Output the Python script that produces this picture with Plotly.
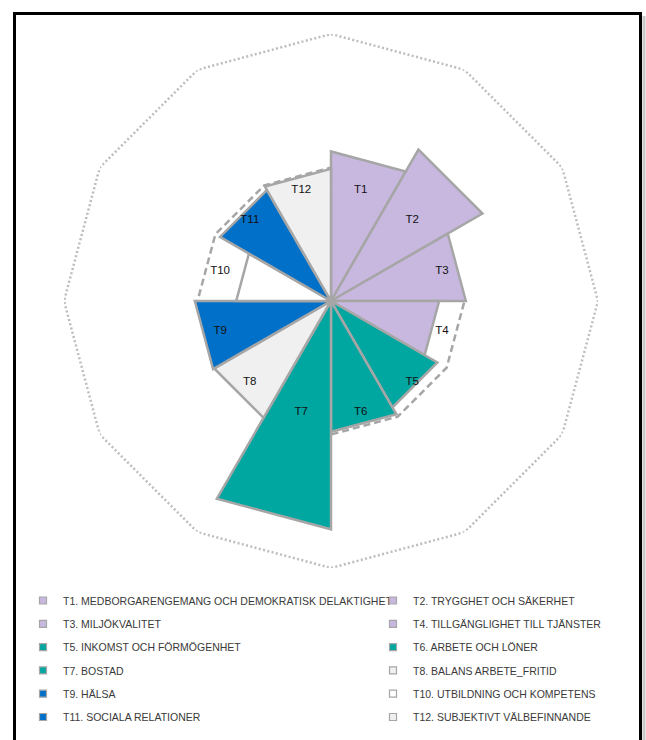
import plotly.graph_objects as go

# ---- data ----
codes = ["T1", "T2", "T3", "T4", "T5", "T6", "T7", "T8", "T9", "T10", "T11", "T12"]
names = [
    "T1. MEDBORGARENGEMANG OCH DEMOKRATISK DELAKTIGHET",
    "T2. TRYGGHET OCH SÄKERHET",
    "T3. MILJÖKVALITET",
    "T4. TILLGÄNGLIGHET TILL TJÄNSTER",
    "T5. INKOMST OCH FÖRMÖGENHET",
    "T6. ARBETE OCH LÖNER",
    "T7. BOSTAD",
    "T8. BALANS ARBETE_FRITID",
    "T9. HÄLSA",
    "T10. UTBILDNING OCH KOMPETENS",
    "T11. SOCIALA RELATIONER",
    "T12. SUBJEKTIVT VÄLBEFINNANDE",
]
values = [112, 131, 101, 81, 92, 98, 171, 101, 102, 71, 96, 99]
reference_level = 100
outer_level = 200

# ---- styles ----
fills = ["#c8b8e0", "#c8b8e0", "#c8b8e0", "#c8b8e0",
         "#00a6a0", "#00a6a0", "#00a6a0",
         "#f0f0f0",
         "#0070c8", "#ffffff", "#0070c8",
         "#f0f0f0"]
edge = "#a6a6a6"
FONT = "Liberation Sans, Arial, sans-serif"

n = len(codes)
step = 360 / n
W, H = 646, 740
cx, cy, R = 331, 301, 267

fig = go.Figure()

# outer dotted frame
ang_all = [i * step for i in range(n + 1)]
fig.add_trace(go.Scatterpolar(
    r=[outer_level] * (n + 1), theta=ang_all, mode="lines",
    line=dict(color="#bdbdbd", width=2.5, dash="2px,2.4px"),
    showlegend=False, hoverinfo="skip"))

# dashed reference polygon
fig.add_trace(go.Scatterpolar(
    r=[reference_level] * (n + 1), theta=ang_all, mode="lines",
    line=dict(color=edge, width=2.5, dash="7px,4px"),
    showlegend=False, hoverinfo="skip"))

# wedges
for i, (c, v) in enumerate(zip(codes, values)):
    a0 = i * step
    fig.add_trace(go.Scatterpolar(
        r=[0, v, v, 0], theta=[a0, a0, a0 + step, a0],
        mode="lines", fill="toself", fillcolor=fills[i],
        line=dict(color=edge, width=2.5),
        name=names[i], showlegend=False, hoverinfo="name"))

# wedge labels
fig.add_trace(go.Scatterpolar(
    r=[86] * n, theta=[i * step + step / 2 for i in range(n)],
    mode="text", text=codes,
    textfont=dict(family=FONT, size=11.5, color="#111111"),
    showlegend=False, hoverinfo="skip"))

# legend entries
for i in range(n):
    fig.add_trace(go.Scatterpolar(
        r=[None], theta=[None], mode="markers",
        marker=dict(symbol="square", size=7, color=fills[i],
                    line=dict(color=edge, width=1.2)),
        name=names[i], legendgroup=codes[i],
        legend="legend" if i % 2 == 0 else "legend2",
        showlegend=True))

legend_common = dict(
    orientation="v", traceorder="grouped", tracegroupgap=4.3,
    bgcolor="rgba(0,0,0,0)", borderwidth=0,
    font=dict(family=FONT, size=10.5, color="#3a3a3a"),
    xanchor="left", yanchor="top", itemclick=False, itemdoubleclick=False)

fig.update_layout(
    width=W, height=H,
    margin=dict(l=0, r=0, t=0, b=0),
    paper_bgcolor="white", plot_bgcolor="white",
    polar=dict(
        domain=dict(x=[(cx - R) / W, (cx + R) / W],
                    y=[1 - (cy + R) / H, 1 - (cy - R) / H]),
        bgcolor="rgba(0,0,0,0)",
        radialaxis=dict(range=[0, outer_level], visible=False),
        angularaxis=dict(rotation=90, direction="clockwise", visible=False),
    ),
    legend=dict(x=23 / W, y=1 - 586 / H, **legend_common),
    legend2=dict(x=373 / W, y=1 - 586 / H, **legend_common),
    shapes=[
        dict(type="line", xref="paper", yref="paper",
             x0=644 / W, x1=644 / W, y0=1 - 16 / H, y1=-0.05,
             line=dict(color="#c8c8c8", width=3)),
        dict(type="rect", xref="paper", yref="paper",
             x0=14.5 / W, x1=640.5 / W, y0=-0.05, y1=1 - 13.5 / H,
             line=dict(color="black", width=3), fillcolor="rgba(0,0,0,0)"),
    ],
)

fig.write_html(
    "out.html",
    config={"displayModeBar": False},
    post_script="document.body.style.margin='0';document.body.style.overflow='hidden';",
)
